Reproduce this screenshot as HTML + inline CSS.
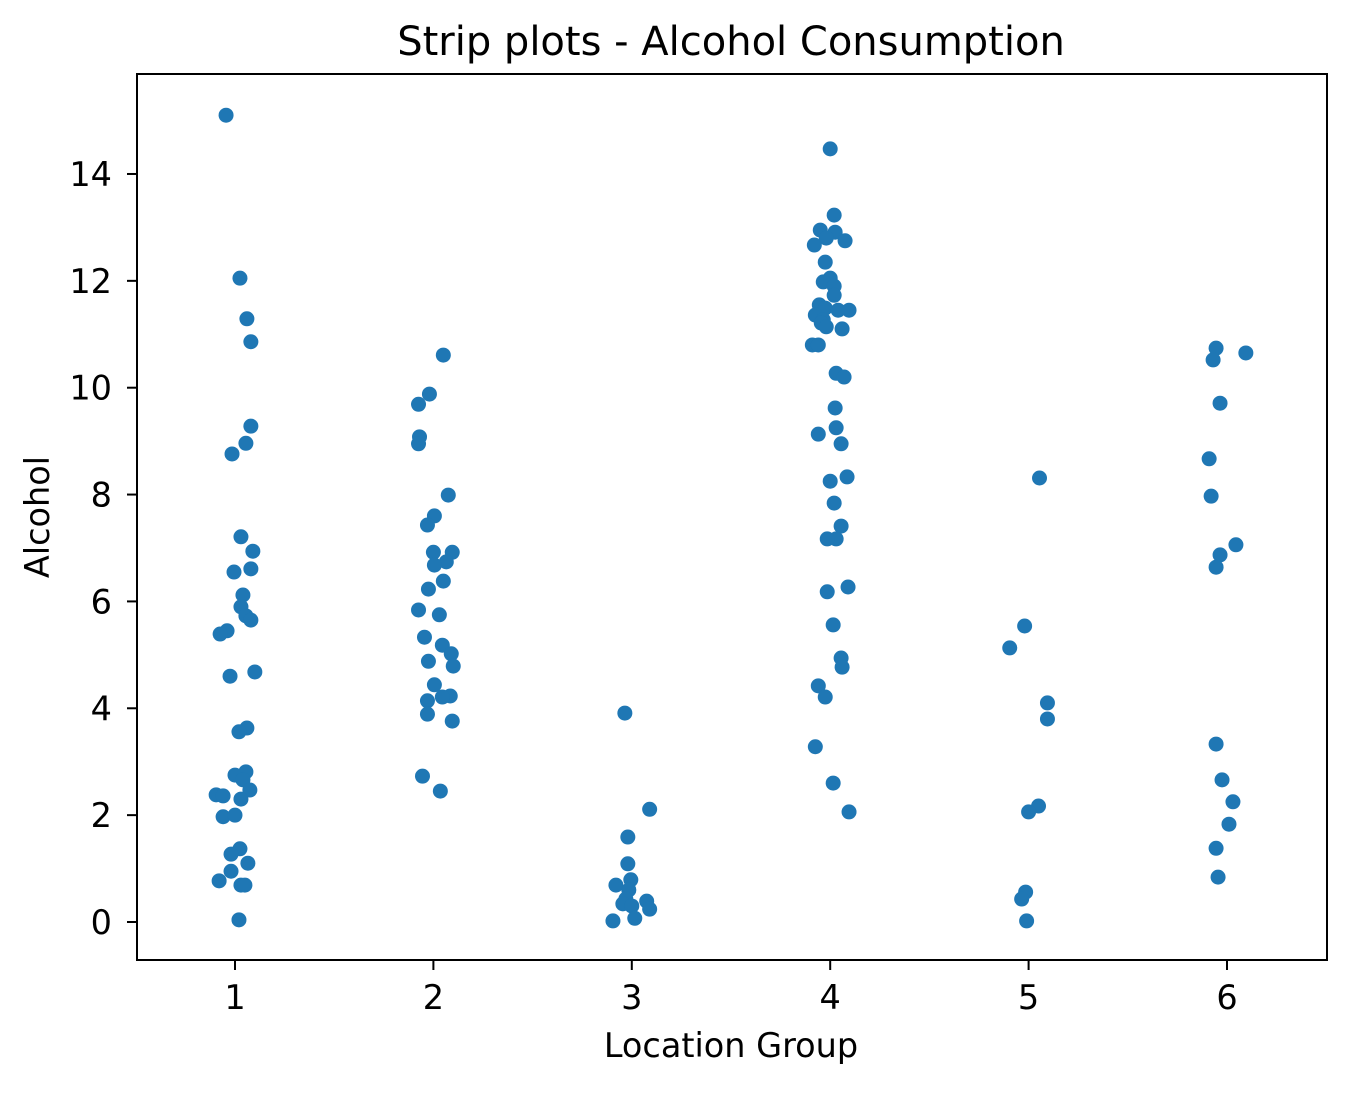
<!DOCTYPE html>
<html><head><meta charset="utf-8"><style>
body{margin:0;background:#fff}
svg text{font-family:"DejaVu Sans","Liberation Sans",sans-serif;fill:#000}
</style></head><body>
<svg id="c" width="1350" height="1088" xmlns="http://www.w3.org/2000/svg">
<rect x="0" y="0" width="1350" height="1088" fill="#fff"/>
<text x="731" y="55" font-size="40" text-anchor="middle">Strip plots - Alcohol Consumption</text>
<text x="731" y="1057" font-size="33.5" text-anchor="middle">Location Group</text>
<text transform="translate(49,517) rotate(-90)" font-size="33.5" text-anchor="middle">Alcohol</text>
<g id="pts"></g>
<g id="ax"></g>
<rect x="137" y="74" width="1190" height="886" fill="none" stroke="#000" stroke-width="2"/>
</svg>
<script>
const xTicks=[1,2,3,4,5,6];
const yTicks=[0,2,4,6,8,10,12,14];
const g1x=[0.955,1.025,1.06,1.08,1.08,1.055,0.985,1.03,1.09,0.995,1.08,1.04,1.03,1.055,1.08,0.96,0.925,0.975,1.10,1.06,1.02,1.0,1.055,1.04,1.075,0.905,0.94,1.03,0.94,1.0,1.025,0.98,1.065,0.98,0.92,1.03,1.05,1.02];
const g1y=[15.10,12.05,11.29,10.86,9.28,8.96,8.76,7.21,6.94,6.55,6.61,6.12,5.90,5.73,5.65,5.45,5.39,4.60,4.68,3.63,3.56,2.75,2.81,2.66,2.47,2.38,2.36,2.30,1.97,2.00,1.37,1.27,1.10,0.95,0.77,0.69,0.69,0.04];
const g2x=[2.05,1.98,1.925,1.93,1.925,2.075,2.005,1.97,2.0,2.095,2.065,2.005,2.05,1.975,1.925,2.03,1.955,2.045,2.09,1.975,2.10,2.005,2.085,2.045,1.97,1.97,2.095,1.945,2.035];
const g2y=[10.61,9.88,9.69,9.08,8.95,7.99,7.60,7.43,6.92,6.92,6.74,6.68,6.38,6.23,5.84,5.75,5.33,5.18,5.02,4.88,4.79,4.44,4.23,4.21,4.14,3.89,3.76,2.73,2.45];
const g3x=[2.965,3.09,2.98,2.98,2.995,2.92,2.985,2.97,3.075,2.955,3.0,3.09,3.015,2.905];
const g3y=[3.91,2.11,1.59,1.09,0.79,0.69,0.60,0.43,0.39,0.34,0.30,0.24,0.07,0.02];
const g4x=[4.0,4.02,3.95,4.025,3.98,4.075,3.92,3.975,4.0,3.965,4.02,4.02,3.945,3.975,4.04,4.095,3.925,3.965,3.955,3.98,4.06,3.91,3.94,4.03,4.07,4.025,4.03,3.94,4.055,4.085,4.0,4.02,4.055,4.03,3.985,3.985,4.09,4.015,4.055,4.06,3.94,3.975,3.925,4.015,4.095];
const g4y=[14.47,13.23,12.95,12.91,12.80,12.75,12.67,12.35,12.05,11.98,11.90,11.73,11.55,11.49,11.45,11.45,11.36,11.27,11.21,11.14,11.10,10.80,10.80,10.27,10.20,9.62,9.25,9.13,8.95,8.33,8.25,7.84,7.41,7.17,7.17,6.18,6.27,5.56,4.94,4.77,4.42,4.21,3.28,2.60,2.06];
const g5x=[5.055,4.98,4.905,5.095,5.095,5.05,5.0,4.985,4.965,4.99];
const g5y=[8.31,5.54,5.13,4.10,3.80,2.17,2.06,0.56,0.43,0.02];
const g6x=[5.945,6.095,5.93,5.965,5.91,5.92,6.045,5.965,5.945,5.945,5.975,6.03,6.01,5.945,5.955];
const g6y=[10.74,10.65,10.52,9.71,8.67,7.97,7.06,6.87,6.64,3.33,2.66,2.25,1.83,1.38,0.84];

const NS='http://www.w3.org/2000/svg';
function sx(v){return 235+(v-1)*198.4;}
function sy(v){return 922-v*53.43;}
const pts=document.getElementById('pts'),ax=document.getElementById('ax');
function mk(t,a,p){const e=document.createElementNS(NS,t);for(const k in a)e.setAttribute(k,a[k]);p.appendChild(e);return e;}
[[g1x,g1y],[g2x,g2y],[g3x,g3y],[g4x,g4y],[g5x,g5y],[g6x,g6y]].forEach((g,gi)=>{
  g[0].forEach((xv,i)=>{
    const c=mk('circle',{cx:sx(xv),cy:sy(g[1][i]),r:7.5,fill:'#1f77b4'},pts);
    
    
  });
});
xTicks.forEach(t=>{
  const l=mk('line',{x1:sx(t),x2:sx(t),y1:960,y2:970,stroke:'#000','stroke-width':2},ax);
  
  
  const tx=mk('text',{x:sx(t),y:1009,'font-size':33.5,'text-anchor':'middle'},ax);
  tx.textContent=t;
  
  
});
yTicks.forEach(t=>{
  const l=mk('line',{x1:127,x2:137,y1:sy(t),y2:sy(t),stroke:'#000','stroke-width':2},ax);
  
  
  const tx=mk('text',{x:112,y:sy(t)+12,'font-size':33.5,'text-anchor':'end'},ax);
  tx.textContent=t;
  
  
});
</script>
</body></html>
